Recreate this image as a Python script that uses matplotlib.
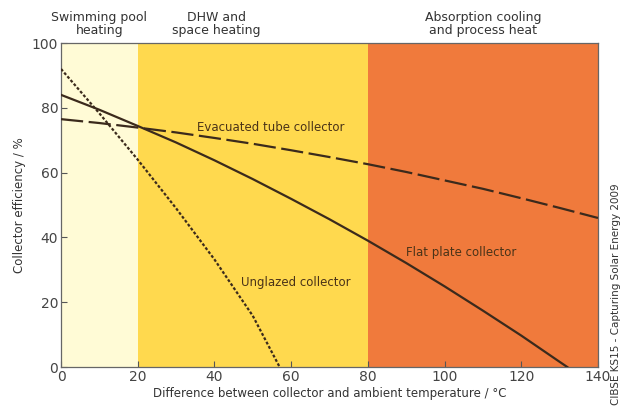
import matplotlib
matplotlib.use("Agg")
import matplotlib.pyplot as plt

# Data
flat_x = [0, 10, 20, 30, 40, 50, 60, 70, 80, 90, 100, 110, 120, 130, 132]
flat_y = [84, 79.4, 74.4, 69.3, 63.8, 58.0, 51.9, 45.6, 39.0, 32.1, 24.9, 17.4, 9.7, 1.6, 0]

evac_x = [0, 10, 20, 30, 40, 50, 60, 70, 80, 90, 100, 110, 120, 130, 140]
evac_y = [76.5, 75.3, 73.9, 72.4, 70.7, 68.9, 66.9, 64.8, 62.6, 60.2, 57.6, 55.0, 52.1, 49.1, 46.0]

ungl_x = [0, 10, 20, 30, 40, 50, 57]
ungl_y = [92, 78.3, 64, 49.0, 33.2, 15.8, 0]

bands = [(0, 20), (20, 80), (80, 140)]
band_colors = ["#FFFBD6", "#FFD94E", "#F07A3C"]
band_titles = ["Swimming pool\nheating", "DHW and\nspace heating", "Absorption cooling\nand process heat"]
band_title_x = [10, 40.5, 110]

xticks = [0, 20, 40, 60, 80, 100, 120, 140]
yticks = [0, 20, 40, 60, 80, 100]

plt.rcParams['font.family'] = ['DejaVu Sans']
fig = plt.figure(figsize=(6.27, 4.12), dpi=100)
ax = fig.add_axes([0.0973, 0.1092, 0.8564, 0.7864])

for (a, b), c in zip(bands, band_colors):
    ax.axvspan(a, b, color=c, lw=0, zorder=0)

line_col = "#3B2A1C"
ax.plot(flat_x, flat_y, color=line_col, lw=1.6, zorder=3)
ax.plot(evac_x, evac_y, color=line_col, lw=1.6, dashes=(10, 2.5), zorder=3)
ax.plot(ungl_x, ungl_y, color=line_col, lw=1.6, dashes=(1.3, 0.9), zorder=3)

lab_col = "#4A3318"
ax.text(35.5, 73.8, "Evacuated tube collector", fontsize=8.5, color=lab_col, va="center", ha="left")
ax.text(47, 26, "Unglazed collector", fontsize=8.5, color=lab_col, va="center", ha="left")
ax.text(90, 35.2, "Flat plate collector", fontsize=8.5, color=lab_col, va="center", ha="left")

for tx, t in zip(band_title_x, band_titles):
    ax.text(tx, 101.8, t, fontsize=9, color="#333333", ha="center", va="bottom", linespacing=1.0)

ax.set_xlim(0, 140)
ax.set_ylim(0, 100)
ax.set_xticks(xticks)
ax.set_yticks(yticks)
ax.tick_params(direction="in", length=4, width=0.8, labelsize=10, colors="#555555", labelcolor="#444444", pad=2)
for s in ax.spines.values():
    s.set_color("#666666")
    s.set_linewidth(0.9)

ax.set_xlabel("Difference between collector and ambient temperature / °C", fontsize=8.5, color="#333333", labelpad=2)
ax.set_ylabel("Collector efficiency / %", fontsize=8.5, color="#333333", labelpad=4)

fig.text(0.982, 0.285, "CIBSE KS15 - Capturing Solar Energy 2009", rotation=90, fontsize=7.5,
         color="#333333", ha="center", va="center")

fig.savefig("out.png", dpi=100)
